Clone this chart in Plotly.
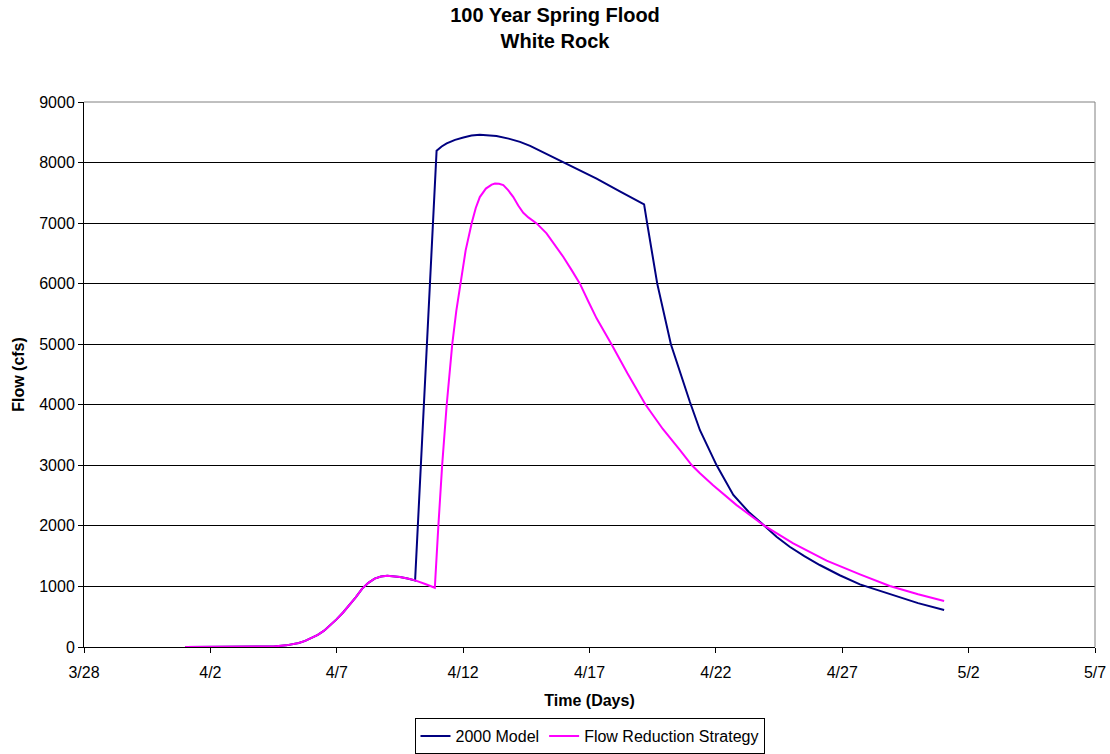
import pandas as pd
import plotly.graph_objects as go

BASE = pd.Timestamp("2000-03-28")

# days since 3/28
model_days = [4.0, 6.0, 7.0, 7.5, 8.0, 8.5, 8.75, 9.0, 9.25, 9.5, 9.75, 10.0, 10.25, 10.5, 10.75,
              11.0, 11.25, 11.5, 11.75, 12.0, 12.25, 12.5, 12.8, 13.1,
              13.95, 14.15, 14.35, 14.68, 15.01, 15.33, 15.66, 16.0, 16.32, 16.8, 17.25, 17.65,
              18.04, 18.55, 19.03, 19.65, 20.28, 21.2, 22.16,
              22.28, 22.68, 23.22, 23.6, 23.97, 24.37, 25.03, 25.69, 26.3, 26.93, 27.4, 27.92,
              28.5, 29.11, 29.9, 30.70, 31.88, 33.0, 34.03]
model_flow = [0, 0, 3, 10, 27, 65, 100, 145, 200, 270, 360, 460, 570, 690, 820,
              960, 1060, 1130, 1165, 1176, 1170, 1155, 1130, 1100,
              8194, 8265, 8316, 8375, 8415, 8445, 8458, 8452, 8437, 8395, 8342, 8275,
              8194, 8100, 8000, 7870, 7735, 7525, 7309,
              7000, 6000, 5000, 4500, 4050, 3580, 3000, 2510, 2230, 2000, 1820, 1655,
              1500, 1354, 1185, 1035, 870, 725, 611]

strategy_days = [4.0, 6.0, 7.0, 7.5, 8.0, 8.5, 8.75, 9.0, 9.25, 9.5, 9.75, 10.0, 10.25, 10.5, 10.75,
                 11.0, 11.25, 11.5, 11.75, 12.0, 12.25, 12.5, 12.8, 13.1, 13.5,
                 13.88, 14.02, 14.17, 14.35, 14.57, 14.73, 14.90, 15.1, 15.34, 15.5, 15.66, 15.9,
                 16.13, 16.26, 16.42, 16.59, 16.78, 16.98, 17.18, 17.38, 17.58, 17.91, 18.30,
                 18.6, 18.96, 19.3, 19.62, 19.95, 20.28, 20.87, 21.5, 22.22, 22.9, 23.58, 24.05,
                 24.37, 24.89, 25.82, 26.93, 28.06, 29.38, 30.70, 31.88, 33.0, 34.03]
strategy_flow = [0, 0, 3, 10, 27, 65, 100, 145, 200, 270, 360, 460, 570, 690, 820,
                 960, 1060, 1130, 1165, 1176, 1170, 1155, 1130, 1100, 1040,
                 978, 2000, 3000, 4000, 5000, 5550, 6000, 6550, 7000, 7250, 7430, 7570,
                 7635, 7655, 7650, 7627, 7545, 7434, 7290, 7170, 7094, 6995, 6830,
                 6660, 6444, 6220, 6000, 5710, 5427, 5000, 4520, 4000, 3600, 3250, 3000,
                 2868, 2673, 2343, 2000, 1710, 1425, 1200, 1007, 870, 759]

tick_days = [0, 5, 10, 15, 20, 25, 30, 35, 40]
tick_labels = ["3/28", "4/2", "4/7", "4/12", "4/17", "4/22", "4/27", "5/2", "5/7"]


def to_dates(days):
    return [BASE + pd.Timedelta(days=d) for d in days]


FONT = "Liberation Sans, Arial, sans-serif"

fig = go.Figure()
fig.add_trace(go.Scatter(x=to_dates(model_days), y=model_flow, mode="lines",
                         name="2000 Model",
                         line=dict(color="#000080", width=2)))
fig.add_trace(go.Scatter(x=to_dates(strategy_days), y=strategy_flow, mode="lines",
                         name="Flow Reduction Strategy",
                         line=dict(color="#FF00FF", width=2)))

# plot-area border: top and right in gray
fig.add_shape(type="line", xref="paper", yref="paper", x0=0, x1=1, y0=1, y1=1,
              line=dict(color="#808080", width=1), layer="above")
fig.add_shape(type="line", xref="paper", yref="paper", x0=1, x1=1, y0=0, y1=1,
              line=dict(color="#808080", width=1), layer="above")

fig.update_layout(
    width=1110, height=754,
    margin=dict(l=84, r=15, t=102, b=107),
    paper_bgcolor="white", plot_bgcolor="white",
    font=dict(family=FONT, size=16, color="black"),
    title=dict(text="<b>100 Year Spring Flood<br>White Rock</b>", x=0.5, xref="container",
               xanchor="center", y=0.971, yanchor="top", font=dict(size=20, family=FONT)),
    showlegend=True,
    legend=dict(orientation="h", x=0.5, xanchor="center", xref="paper",
                y=0.0, yanchor="bottom", yref="container",
                bordercolor="black", borderwidth=1, font=dict(size=16, family=FONT),
                itemwidth=30, tracegroupgap=0),
    xaxis=dict(range=[BASE, BASE + pd.Timedelta(days=40)],
               tickvals=to_dates(tick_days), ticktext=tick_labels,
               showgrid=False, showline=True, linecolor="black", linewidth=1,
               ticks="outside", ticklen=5, tickcolor="black",
               tickfont=dict(size=16), ticklabelstandoff=6, automargin=False,
               title=dict(text="<b>Time (Days)</b>", font=dict(size=16), standoff=14),
               zeroline=False),
    yaxis=dict(range=[0, 9000], dtick=1000, tick0=0,
               showgrid=True, gridcolor="black", gridwidth=1,
               showline=True, linecolor="black", linewidth=1,
               ticks="outside", ticklen=5, tickcolor="black",
               tickfont=dict(size=16), automargin=False,
               title=dict(text="<b>Flow (cfs)</b>", font=dict(size=16), standoff=10),
               zeroline=False),
)

fig.write_html("out.html")
